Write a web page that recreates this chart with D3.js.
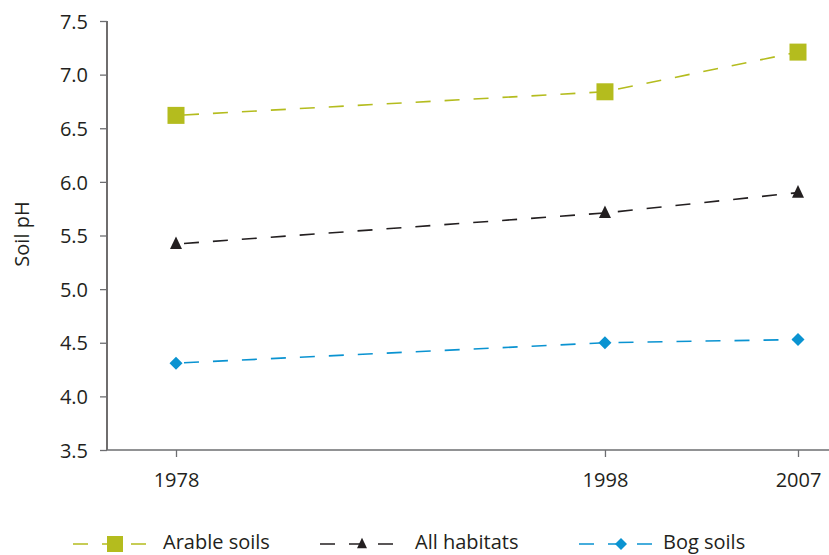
<!DOCTYPE html>
<html><head><meta charset="utf-8">
<script src="https://cdn.jsdelivr.net/npm/d3@7"></script>
<style>
html,body{margin:0;padding:0;background:#fff;}
svg{display:block;font-family:"Open Sans",sans-serif;}
</style></head>
<body>
<svg id="c" width="829" height="555"></svg>
<script>
const years = [1978, 1998, 2007];
const arable = [6.62, 6.84, 7.21];
const allHabitats = [5.42, 5.71, 5.90];
const bog = [4.31, 4.50, 4.53];
const yTicks = [3.5, 4.0, 4.5, 5.0, 5.5, 6.0, 6.5, 7.0, 7.5];
const seriesNames = ["Arable soils", "All habitats", "Bog soils"];

const ink = "#231f20", grey = "#6d6e71";
const colors = ["#b4bc1e", "#231f20", "#0a93d1"];
const shapes = ["square", "triangle", "diamond"];
const series = [arable, allHabitats, bog];

const svg = d3.select("#c");
const x = d3.scaleLinear().domain([1978, 2007]).range([176, 798]);
const y = d3.scaleLinear().domain([3.5, 7.5]).range([450, 21]);

// y axis
const ya = svg.append("g").attr("transform", "translate(107,0)")
  .call(d3.axisLeft(y).tickValues(yTicks).tickFormat(d3.format(".1f")).tickSize(7).tickPadding(12));
ya.select(".domain").attr("stroke", ink).attr("stroke-width", 1.3).attr("d", "M0,21V450");
ya.selectAll(".tick line").attr("stroke", grey).attr("stroke-width", 1.3);
ya.selectAll(".tick text").attr("fill", ink).attr("font-size", 20).attr("dy", "0.36em")
  .attr("font-family", "Open Sans");

// x axis
const xa = svg.append("g").attr("transform", "translate(0,450)")
  .call(d3.axisBottom(x).tickValues(years).tickFormat(d3.format("d")).tickSize(7).tickPadding(16));
xa.select(".domain").attr("stroke", grey).attr("stroke-width", 1.3).attr("d", "M107,0H829");
xa.selectAll(".tick line").attr("stroke", grey).attr("stroke-width", 1.3);
xa.selectAll(".tick text").attr("fill", ink).attr("font-size", 20).attr("font-family", "Open Sans");

// y label
svg.append("text").attr("transform", "translate(29,234) rotate(-90)")
  .attr("text-anchor", "middle").attr("font-size", 20).attr("fill", ink).text("Soil pH");

function marker(g, shape, cx, cy, color, s) {
  if (shape === "square") {
    g.append("rect").attr("x", cx - s/2).attr("y", cy - s/2).attr("width", s).attr("height", s).attr("fill", color);
  } else if (shape === "triangle") {
    const h = s * 1.05;
    g.append("path").attr("d", `M${cx},${cy - h*0.6}L${cx + s/2},${cy + h*0.4}L${cx - s/2},${cy + h*0.4}Z`).attr("fill", color);
  } else {
    const r = s / 2;
    g.append("path").attr("d", `M${cx},${cy - r}L${cx + r},${cy}L${cx},${cy + r}L${cx - r},${cy}Z`).attr("fill", color);
  }
}

const line = d3.line().x((d, i) => x(years[i])).y(d => y(d));
const msize = [17, 12, 13];
series.forEach((vals, si) => {
  const g = svg.append("g");
  g.append("path").datum(vals).attr("d", line).attr("fill", "none")
    .attr("stroke", colors[si]).attr("stroke-width", 1.6).attr("stroke-dasharray", "15,14")
    .attr("stroke-dashoffset", -8);
  vals.forEach((v, i) => marker(g, shapes[si], x(years[i]), y(v), colors[si], msize[si]));
});

// legend
const legStart = [73, 320, 579];
const legMarker = [115, 362, 621];
const legText = [163, 415, 663];
const legSize = [16, 10, 12];
seriesNames.forEach((name, si) => {
  const g = svg.append("g");
  g.append("line").attr("x1", legStart[si]).attr("x2", legStart[si] + 74).attr("y1", 544).attr("y2", 544)
    .attr("stroke", colors[si]).attr("stroke-width", 1.6).attr("stroke-dasharray", "15,14");
  marker(g, shapes[si], legMarker[si], 544, colors[si], legSize[si]);
  g.append("text").attr("x", legText[si]).attr("y", 549).attr("font-size", 20).attr("fill", ink).text(name);
});
</script>
</body></html>
